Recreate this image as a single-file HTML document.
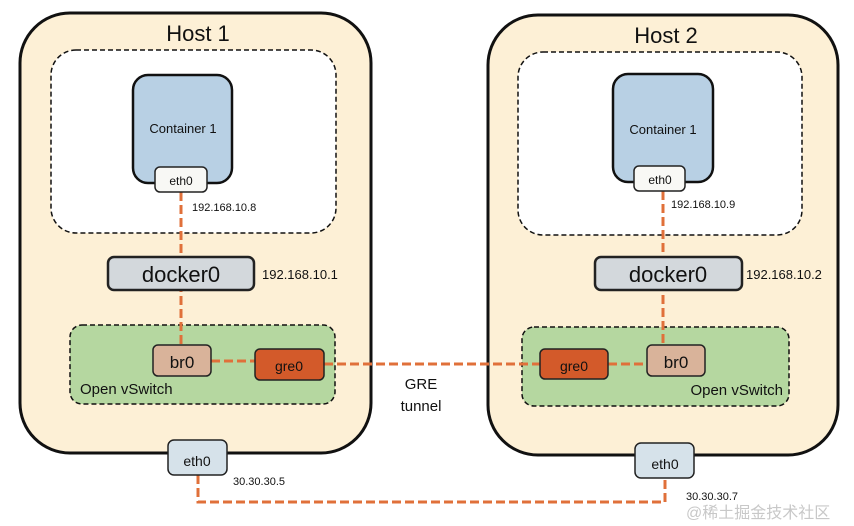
<!DOCTYPE html>
<html><head><style>body{margin:0;background:#fff}svg{display:block}text{font-family:"Liberation Sans","Noto Sans CJK SC",sans-serif}</style></head><body>
<svg width="854" height="526" viewBox="0 0 854 526" xmlns="http://www.w3.org/2000/svg">
<g stroke="#111">
<rect x="20" y="13" width="351" height="440" rx="50" fill="#fdf0d6" stroke-width="3"/>
<rect x="488" y="15" width="350" height="440" rx="50" fill="#fdf0d6" stroke-width="3"/>
<rect x="51" y="50" width="285" height="183" rx="25" fill="#fff" stroke-width="1.5" stroke-dasharray="5 3"/>
<rect x="518" y="52" width="284" height="183" rx="25" fill="#fff" stroke-width="1.5" stroke-dasharray="5 3"/>
<rect x="133" y="75" width="99" height="108" rx="15" fill="#b8d0e4" stroke-width="2.5"/>
<rect x="613" y="74" width="100" height="108" rx="15" fill="#b8d0e4" stroke-width="2.5"/>
<rect x="70" y="325" width="265" height="79" rx="12" fill="#b5d7a0" stroke-width="1.5" stroke-dasharray="5 3"/>
<rect x="522" y="327" width="267" height="79" rx="12" fill="#b5d7a0" stroke-width="1.5" stroke-dasharray="5 3"/>
</g>
<g stroke="#e0703a" stroke-width="3" stroke-dasharray="9 4" fill="none">
<path d="M181 192V345"/><path d="M663 191V345"/>
<path d="M211 361H255"/><path d="M608 364H647"/>
<path d="M324 364H540"/>
<path d="M198 475V502H665V478"/>
</g>
<g stroke="#222" stroke-width="1.5">
<rect x="155" y="167" width="52" height="25" rx="5" fill="#f8f8f5"/>
<rect x="634" y="166" width="51" height="25" rx="5" fill="#f8f8f5"/>
<rect x="108" y="257" width="146" height="33" rx="6" fill="#d3d8dc" stroke-width="2.5"/>
<rect x="595" y="257" width="147" height="33" rx="6" fill="#d3d8dc" stroke-width="2.5"/>
<rect x="153" y="345" width="58" height="31" rx="5" fill="#d9b39a"/>
<rect x="647" y="345" width="58" height="31" rx="5" fill="#d9b39a"/>
<rect x="255" y="349" width="69" height="31" rx="5" fill="#d35a2a"/>
<rect x="540" y="349" width="68" height="30" rx="5" fill="#d35a2a"/>
<rect x="168" y="440" width="59" height="35" rx="6" fill="#d6e2ea"/>
<rect x="635" y="443" width="59" height="35" rx="6" fill="#d6e2ea"/>
</g>
<g fill="#111" text-anchor="middle">
<text x="198" y="41" font-size="22">Host 1</text>
<text x="666" y="43" font-size="22">Host 2</text>
<text x="183" y="133" font-size="13">Container 1</text>
<text x="663" y="134" font-size="13">Container 1</text>
<text x="181" y="185" font-size="12">eth0</text>
<text x="660" y="184" font-size="12">eth0</text>
<text x="181" y="282" font-size="22">docker0</text>
<text x="668" y="282" font-size="22">docker0</text>
<text x="182" y="368" font-size="17">br0</text>
<text x="676" y="368" font-size="17">br0</text>
<text x="289" y="371" font-size="14">gre0</text>
<text x="574" y="371" font-size="14">gre0</text>
<text x="197" y="466" font-size="14">eth0</text>
<text x="665" y="469" font-size="14">eth0</text>
<text x="421" y="389" font-size="15">GRE</text>
<text x="421" y="411" font-size="15">tunnel</text>
</g>
<g fill="#111" font-size="11">
<text x="192" y="211">192.168.10.8</text>
<text x="671" y="208">192.168.10.9</text>
<text x="262" y="279" font-size="13">192.168.10.1</text>
<text x="746" y="279" font-size="13">192.168.10.2</text>
<text x="233" y="485">30.30.30.5</text>
<text x="686" y="500">30.30.30.7</text>
<text x="80" y="394" font-size="15">Open vSwitch</text>
<text x="783" y="395" font-size="15" text-anchor="end">Open vSwitch</text>
</g>
<text x="686" y="518" font-size="16" fill="#c8c8c8">@稀土掘金技术社区</text>
</svg>
</body></html>
